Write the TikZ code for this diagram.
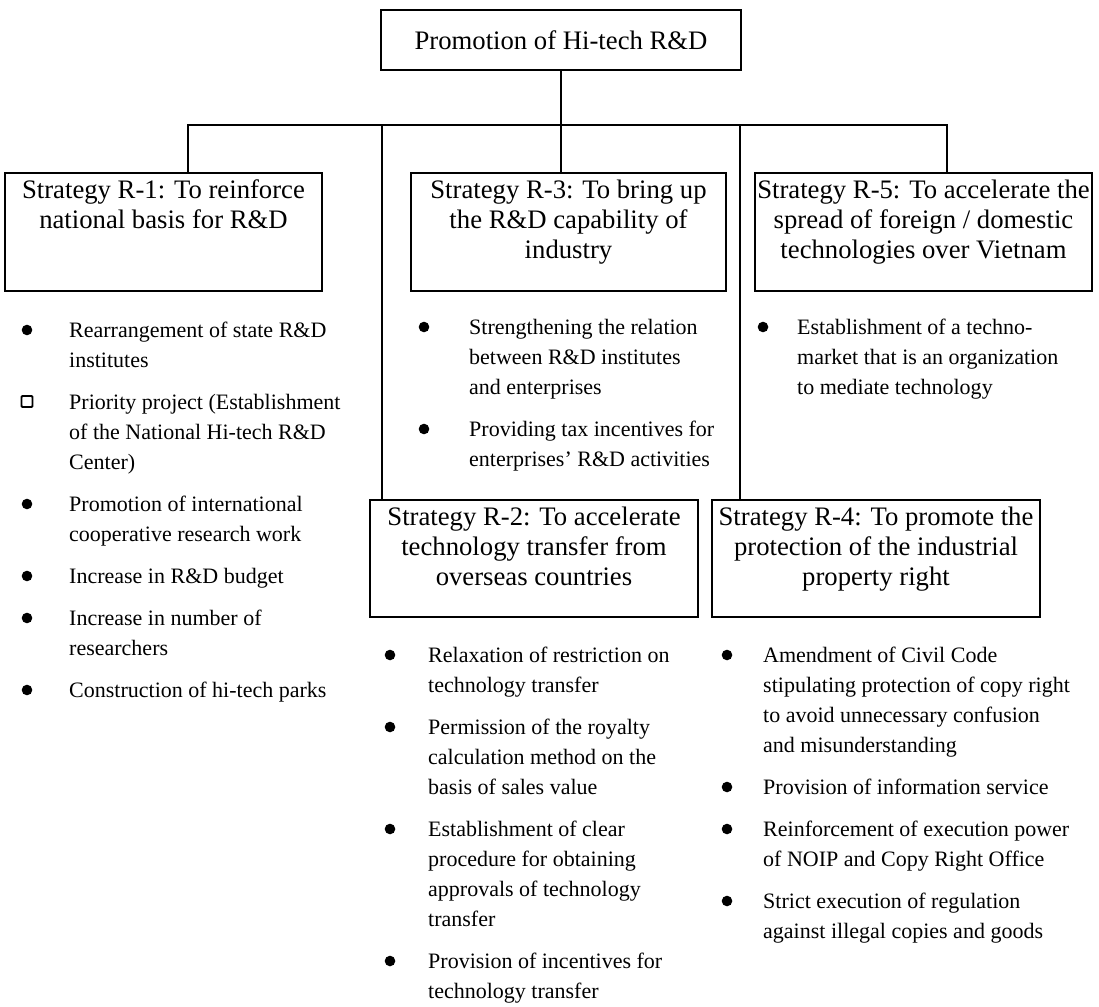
\documentclass[tikz,border=0pt]{standalone}
\usepackage{fontspec}
\setmainfont{Liberation Serif}
\usetikzlibrary{positioning}
\tikzset{
  titlebox/.style = {draw, line width=1.5pt, minimum width=360pt, minimum height=60pt,
    font=\fontsize{26.7}{30}\selectfont},
  stratbox/.style = {draw, line width=1.5pt, minimum height=118pt, inner sep=0pt},
  headtext/.style = {inner sep=0pt, align=center, font=\fontsize{26.7}{30}\selectfont},
  itemtext/.style = {inner sep=0pt, anchor=north west, align=left,
    font=\fontsize{22}{30}\selectfont},
  link/.style = {line width=2pt}
}
\newcommand{\RD}{R\&D}

\begin{document}
\begin{tikzpicture}[x=1pt,y=-1pt]
  \useasboundingbox (0,0) rectangle (1099,1006);
  \node[titlebox] (top) at (561,40) {Promotion of Hi-tech \RD};
  % strategy boxes
  \node[stratbox, minimum width=317pt] (r1) at (163.5,232) {};
  \node[stratbox, minimum width=315pt] (r3) at (568.5,232) {};
  \node[stratbox, minimum width=337pt] (r5) at (923.5,232) {};
  \node[stratbox, minimum width=328pt, minimum height=117pt] (r2) at (534,558.5) {};
  \node[stratbox, minimum width=328pt, minimum height=117pt] (r4) at (876,558.5) {};
  \node[headtext, below=5pt of r1.north] (r1h) {\strut Strategy R-1: To reinforce\\national basis for \RD};
  \node[headtext, below=5pt of r3.north] (r3h) {\strut Strategy R-3: To bring up\\the \RD\ capability of\\industry};
  \node[headtext, below=5pt of r5.north] (r5h) {\strut Strategy R-5: To accelerate the\\spread of foreign / domestic\\technologies over Vietnam};
  \node[headtext, below=5pt of r2.north] (r2h) {\strut Strategy R-2: To accelerate\\technology transfer from\\overseas countries};
  \node[headtext, below=5pt of r4.north] (r4h) {\strut Strategy R-4: To promote the\\protection of the industrial\\property right};
  % tree lines
  \coordinate (hub) at (561,125);
  \coordinate (j1) at (188,125);
  \coordinate (j2) at (382,125);
  \coordinate (j4) at (740,125);
  \coordinate (j5) at (947,125);
  \draw[link] (top) -- (hub);
  \draw[link] (j1 |- r1.north) -- (j1) -- (j5) -- (j5 |- r5.north);
  \draw[link] (hub) -- (hub |- r3.north);
  \draw[link] (j2) -- (j2 |- r2.north);
  \draw[link] (j4) -- (j4 |- r4.north);
  % R-1
  \fill (27,330) circle (5.3);
  \node[itemtext] (r1a) at (69,316) {\strut Rearrangement of state \RD\\institutes};
  \draw[line width=1.8pt, rounded corners=1pt] (21.5,396) rectangle (32.5,407);
  \node[itemtext] (r1b) at (69,388) {\strut Priority project (Establishment\\of the National Hi-tech \RD\\Center)};
  \fill (27,504) circle (5.3);
  \node[itemtext] (r1c) at (69,490) {\strut Promotion of international\\cooperative research work};
  \fill (27,576) circle (5.3);
  \node[itemtext] (r1d) at (69,562) {\strut Increase in \RD\ budget};
  \fill (27,618) circle (5.3);
  \node[itemtext] (r1e) at (69,604) {\strut Increase in number of\\researchers};
  \fill (27,690) circle (5.3);
  \node[itemtext] (r1f) at (69,676) {\strut Construction of hi-tech parks};
  % R-3
  \fill (424,327) circle (5.3);
  \node[itemtext] (r3a) at (469,313) {\strut Strengthening the relation\\between \RD\ institutes\\and enterprises};
  \fill (424,429) circle (5.3);
  \node[itemtext] (r3b) at (469,415) {\strut Providing tax incentives for\\enterprises' \RD\ activities};
  % R-5
  \fill (763,327) circle (5.3);
  \node[itemtext] (r5a) at (797,313) {\strut Establishment of a techno-\\market that is an organization\\to mediate technology};
  % R-2
  \fill (390,655) circle (5.3);
  \node[itemtext] (r2a) at (428,641) {\strut Relaxation of restriction on\\technology transfer};
  \fill (390,727) circle (5.3);
  \node[itemtext] (r2b) at (428,713) {\strut Permission of the royalty\\calculation method on the\\basis of sales value};
  \fill (390,829) circle (5.3);
  \node[itemtext] (r2c) at (428,815) {\strut Establishment of clear\\procedure for obtaining\\approvals of technology\\transfer};
  \fill (390,961) circle (5.3);
  \node[itemtext] (r2d) at (428,947) {\strut Provision of incentives for\\technology transfer};
  % R-4
  \fill (727,655) circle (5.3);
  \node[itemtext] (r4a) at (763,641) {\strut Amendment of Civil Code\\stipulating protection of copy right\\to avoid unnecessary confusion\\and misunderstanding};
  \fill (727,787) circle (5.3);
  \node[itemtext] (r4b) at (763,773) {\strut Provision of information service};
  \fill (727,829) circle (5.3);
  \node[itemtext] (r4c) at (763,815) {\strut Reinforcement of execution power\\of NOIP and Copy Right Office};
  \fill (727,901) circle (5.3);
  \node[itemtext] (r4d) at (763,887) {\strut Strict execution of regulation\\against illegal copies and goods};
\end{tikzpicture}
\end{document}
